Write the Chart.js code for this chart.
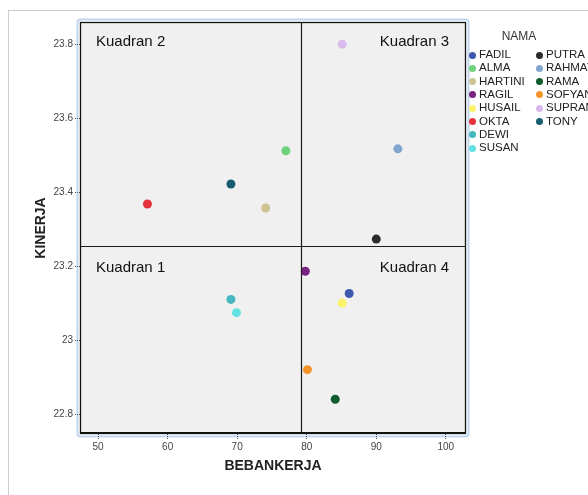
<!DOCTYPE html>
<html>
<head>
<meta charset="utf-8">
<script src="https://cdn.jsdelivr.net/npm/chart.js@4.4.1/dist/chart.umd.min.js"></script>
<style>
  html,body{margin:0;padding:0;background:#fff;width:588px;height:495px;overflow:hidden;font-family:"Liberation Sans",Arial,sans-serif;}
  #frame{position:absolute;left:8px;top:10px;width:600px;height:500px;border:1px solid #c9ced4;box-sizing:border-box;}
  #c{position:absolute;left:0;top:0;}
  #legend{position:absolute;left:0;top:0;width:588px;height:495px;pointer-events:none;}
  .ltitle{position:absolute;font-size:12px;color:#333;transform:translate(-50%,-50%);}
  .item{position:absolute;font-size:11.5px;color:#222;white-space:nowrap;transform:translateY(-50%);}
  .dot{display:inline-block;width:7px;height:7px;border-radius:50%;margin-right:3px;vertical-align:-0.5px;}
</style>
</head>
<body>
<div id="frame"></div>
<canvas id="c" width="588" height="495"></canvas>
<div id="legend"></div>
<script>
// ---- data ----
const names      = ["FADIL","ALMA","HARTINI","RAGIL","HUSAIL","OKTA","DEWI","SUSAN","PUTRA","RAHMAT","RAMA","SOFYAN","SUPRAM","TONY"];
const bebanKerja = [86.1, 77.0, 74.1, 79.8, 85.1, 57.1, 69.1, 69.9, 90.0, 93.1, 84.1, 80.1, 85.1, 69.1];
const kinerja    = [23.126, 23.512, 23.357, 23.186, 23.10, 23.368, 23.11, 23.074, 23.273, 23.517, 22.84, 22.92, 23.80, 23.422];
const xTicks     = [50, 60, 70, 80, 90, 100];
const yTicks     = [22.8, 23.0, 23.2, 23.4, 23.6, 23.8];
const refX       = 79.2;   // vertical quadrant line
const refY       = 23.254; // horizontal quadrant line
const quadrantLabels = ["Kuadran 1","Kuadran 2","Kuadran 3","Kuadran 4"];

// ---- styles ----
const colors = ["#3d58ad","#6dd27b","#cdc494","#7b2382","#fbf36b","#e5333d","#45b7bf","#62e1e2","#2b2b2b","#80a6d0","#115c2e","#f4952b","#d9baec","#165d70"];

const datasets = names.map((n,i)=>({
  label:n,
  data:[{x:bebanKerja[i], y:kinerja[i]}],
  backgroundColor:colors[i],
  borderColor:colors[i],
  pointRadius:4.5,
  pointHoverRadius:4.5,
  borderWidth:0
}));

const decor = {
  id:'decor',
  beforeDraw(chart){
    const {ctx, chartArea:a} = chart;
    ctx.save();
    // light-blue outer glow
    ctx.strokeStyle = '#bfd6ed';
    ctx.lineWidth = 2;
    ctx.beginPath();
    if (ctx.roundRect) ctx.roundRect(a.left-2.5, a.top-2.5, a.width+5, a.height+5, 3);
    else ctx.rect(a.left-2.5, a.top-2.5, a.width+5, a.height+5);
    ctx.stroke();
    ctx.fillStyle = '#f0f0f0';
    ctx.fillRect(a.left, a.top, a.width, a.height);
    ctx.restore();
  },
  afterDatasetsDraw(chart){
    const {ctx, chartArea:a, scales:{x,y}} = chart;
    ctx.save();
    ctx.strokeStyle = '#1a1a1a';
    ctx.lineWidth = 1.2;
    const px = Math.round(x.getPixelForValue(refX))+0.5;
    const py = Math.round(y.getPixelForValue(refY))+0.5;
    ctx.beginPath();
    ctx.moveTo(px, a.top); ctx.lineTo(px, a.bottom);
    ctx.moveTo(a.left, py); ctx.lineTo(a.right, py);
    ctx.stroke();
    // plot border
    ctx.lineWidth = 1.3;
    ctx.strokeStyle = '#111';
    ctx.strokeRect(a.left+0.5, a.top+0.5, a.width-1, a.height-1);
    ctx.beginPath();
    ctx.lineWidth = 2;
    ctx.moveTo(a.left, a.bottom-1); ctx.lineTo(a.right, a.bottom-1);
    ctx.stroke();
    // quadrant labels
    ctx.fillStyle = '#111';
    ctx.font = '15px "Liberation Sans", Arial, sans-serif';
    ctx.textBaseline = 'middle';
    ctx.textAlign = 'left';
    ctx.fillText(quadrantLabels[1], a.left+16, a.top+20);
    ctx.fillText(quadrantLabels[0], a.left+16, py+21);
    ctx.textAlign = 'right';
    ctx.fillText(quadrantLabels[2], a.right-17, a.top+20);
    ctx.fillText(quadrantLabels[3], a.right-17, py+21);
    ctx.restore();
  }
};

new Chart(document.getElementById('c'), {
  type:'scatter',
  data:{datasets},
  plugins:[decor],
  options:{
    responsive:false,
    animation:false,
    devicePixelRatio:1,
    layout:{padding:{top:22, right:122, left:0, bottom:0}},
    plugins:{legend:{display:false}, tooltip:{enabled:false}},
    scales:{
      x:{
        type:'linear', min:47.4, max:102.9,
        afterBuildTicks(s){ s.ticks = xTicks.map(v=>({value:v})); },
        afterFit(s){ s.height = 61; },
        ticks:{color:'#444', font:{family:'"Liberation Sans", Arial, sans-serif', size:10}, padding:2, callback:v=>String(v)},
        grid:{drawOnChartArea:false, drawTicks:true, tickLength:5, tickColor:'#555', tickBorderDash:[1,1], tickWidth:1},
        border:{display:false},
        title:{display:true, text:'BEBANKERJA', color:'#222', font:{family:'"Liberation Sans", Arial, sans-serif', size:14, weight:'bold'}, padding:{top:0, bottom:20}}
      },
      y:{
        type:'linear', min:22.746, max:23.86,
        afterBuildTicks(s){ s.ticks = yTicks.map(v=>({value:v})); },
        afterFit(s){ s.width = 80; },
        ticks:{color:'#444', font:{family:'"Liberation Sans", Arial, sans-serif', size:10}, padding:2, callback:v=>String(Math.round(v*10)/10)},
        grid:{drawOnChartArea:false, drawTicks:true, tickLength:5, tickColor:'#555', tickBorderDash:[1,1], tickWidth:1},
        border:{display:false},
        title:{display:true, text:'KINERJA', color:'#222', font:{family:'"Liberation Sans", Arial, sans-serif', size:14, weight:'bold'}, padding:{top:33, bottom:0}}
      }
    }
  }
});

// ---- HTML legend ----
const lg = document.getElementById('legend');
const t = document.createElement('div');
t.className='ltitle'; t.textContent='NAMA';
t.style.left='519px'; t.style.top='36px';
lg.appendChild(t);
names.forEach((n,i)=>{
  const col = i<8 ? 0 : 1;
  const row = i<8 ? i : i-8;
  const d = document.createElement('div');
  d.className='item';
  d.style.left = (col===0 ? 469 : 536)+'px';
  d.style.top = (54 + row*13.3)+'px';
  d.innerHTML = '<span class="dot" style="background:'+colors[i]+'"></span>';
  d.appendChild(document.createTextNode(n));
  lg.appendChild(d);
});
</script>
</body>
</html>
